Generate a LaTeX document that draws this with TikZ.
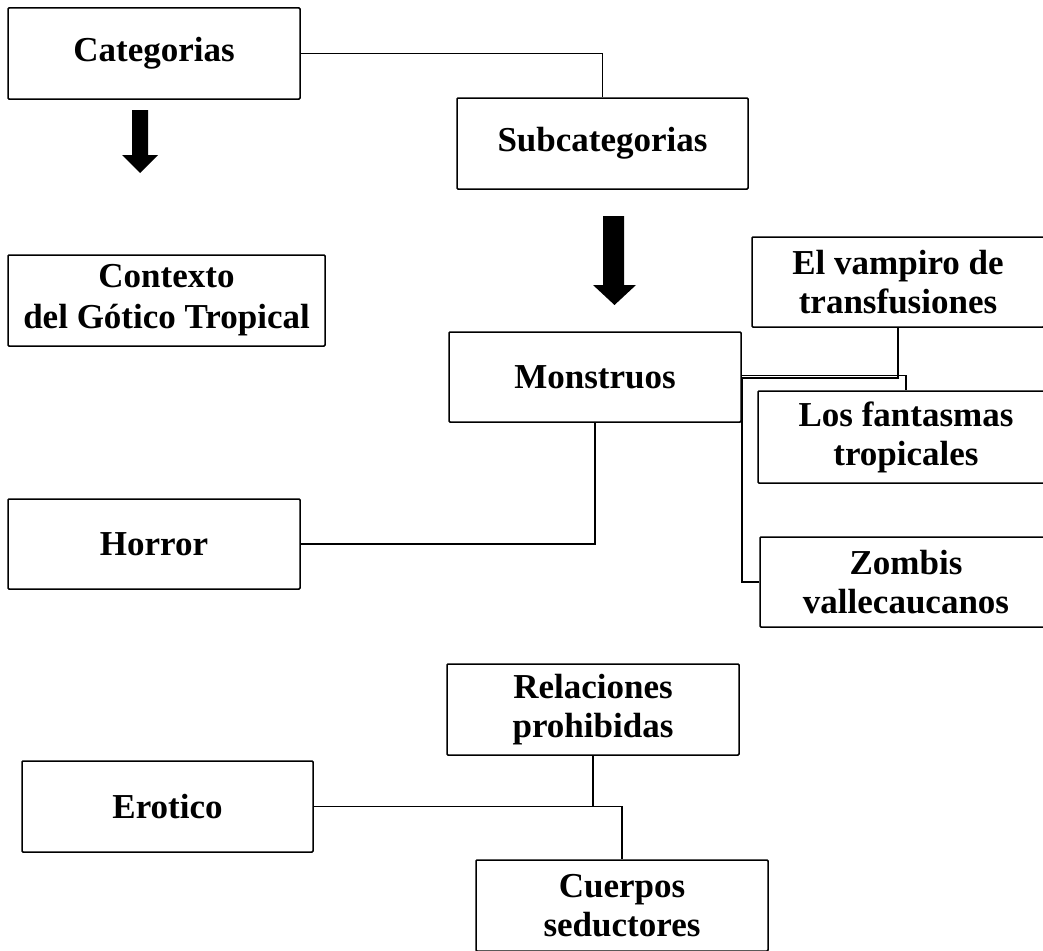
\documentclass[tikz,border=0pt]{standalone}
\usepackage{fontspec}
\setmainfont{Liberation Serif}
\begin{document}
\begin{tikzpicture}[x=1pt,y=-1pt,
  box/.style={draw, line width=1.5pt, rounded corners=1pt, align=center, inner sep=0pt,
    font=\fontsize{35}{39}\selectfont\bfseries},
  link/.style={line width=1.7pt},
  bigarrow/.style={fill=black}]
\useasboundingbox (0,0) rectangle (1043,950);
\node[box, minimum width=292pt, minimum height=91pt] (cat) at (154,53.5) {Categorias};
\node[box, minimum width=291pt, minimum height=91pt] (sub) at (602.5,143.5) {Subcategorias};
\node[box, minimum width=317pt, minimum height=91pt] (ctx) at (166.5,300.5) {Contexto\\[2pt]del Gótico Tropical};
\node[box, minimum width=292pt, minimum height=90pt] (mon) at (595,377) {Monstruos};
\node[box, minimum width=292pt, minimum height=90pt] (vamp) at (898,282) {El vampiro de\\transfusiones};
\node[box, minimum width=296pt, minimum height=92pt] (fant) at (906,437) {Los fantasmas\\tropicales};
\node[box, minimum width=292pt, minimum height=90pt] (zomb) at (906,582) {Zombis\\vallecaucanos};
\node[box, minimum width=292pt, minimum height=90pt] (hor) at (154,544) {Horror};
\node[box, minimum width=292pt, minimum height=91pt] (rel) at (593,709.5) {Relaciones\\prohibidas};
\node[box, minimum width=291pt, minimum height=91pt] (ero) at (167.5,806.5) {Erotico};
\node[box, minimum width=292pt, minimum height=91pt] (cue) at (622,905.5) {Cuerpos\\seductores};
% big arrows
\fill[bigarrow] (132,110) -- (148,110) -- (148,155) -- (158,155) -- (140,173) -- (122,155) -- (132,155) -- cycle;
\fill[bigarrow] (603,216) -- (624,216) -- (624,285) -- (636,285) -- (614.5,305) -- (593,285) -- (603,285) -- cycle;
% connectors
\draw[link] (cat.east) -| (sub.north);
\draw[link] (mon.south) |- (hor.east);
\draw[link] (vamp.south) |- ([yshift=-1pt]mon.east);
\draw[link] ([yshift=1.5pt]mon.east) -| (fant.north);
\draw[link] (mon.east) |- (zomb.west);
\draw[link] (rel.south) |- (ero.east);
\coordinate (j) at (rel.south |- ero.east);
\draw[link] (j) -| (cue.north);
\end{tikzpicture}
\end{document}
